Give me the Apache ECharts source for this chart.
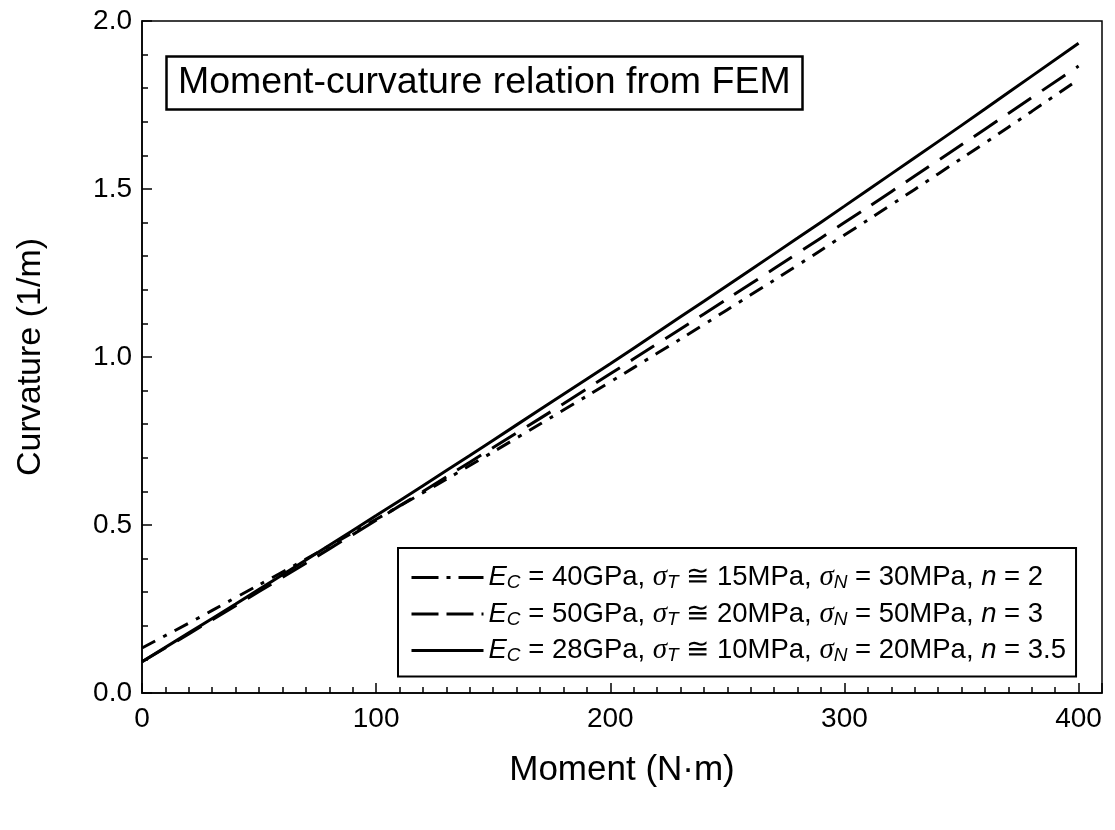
<!DOCTYPE html>
<html>
<head>
<meta charset="utf-8">
<script src="https://cdn.jsdelivr.net/npm/echarts@6/dist/echarts.min.js"></script>
<style>
html,body{margin:0;padding:0;background:#fff;}
#chart{width:1115px;height:830px;}
</style>
</head>
<body>
<div id="chart"></div>
<script>
// ---- data ----
const moments = [0,20,40,60,80,100,120,140,160,180,200,220,240,260,280,300,320,340,360,380,400];
const curvDashDot40 = [0.134,0.208,0.284,0.360,0.438,0.517,0.596,0.677,0.759,0.842,0.926,1.011,1.097,1.185,1.273,1.363,1.453,1.545,1.637,1.731,1.826];
const curvDashed50  = [0.093,0.176,0.260,0.344,0.429,0.514,0.600,0.687,0.774,0.861,0.950,1.039,1.128,1.218,1.309,1.400,1.492,1.585,1.678,1.772,1.866];
const curvSolid28   = [0.093,0.179,0.265,0.352,0.440,0.528,0.617,0.707,0.798,0.889,0.980,1.073,1.166,1.260,1.354,1.449,1.545,1.641,1.738,1.836,1.934];
const seriesNames = ['s40', 's50', 's28'];
const legendLabels = [
  '{i|E}{s|C}{t| = 40GPa, }{g|σ}{s|T}{t| ≅ 15MPa, }{g|σ}{s|N}{t| = 30MPa, }{i|n}{t| = 2}',
  '{i|E}{s|C}{t| = 50GPa, }{g|σ}{s|T}{t| ≅ 20MPa, }{g|σ}{s|N}{t| = 50MPa, }{i|n}{t| = 3}',
  '{i|E}{s|C}{t| = 28GPa, }{g|σ}{s|T}{t| ≅ 10MPa, }{g|σ}{s|N}{t| = 20MPa, }{i|n}{t| = 3.5}'
];
const xTicks = [0,100,200,300,400];
const titleText = 'Moment-curvature relation from FEM';
const xName = 'Moment (N·m)';
const yName = 'Curvature (1/m)';

const FONT = '"Liberation Sans", Arial, sans-serif';
const pairs = arr => moments.map((m, i) => [m, arr[i]]);
const dashes = [[15, 9, 4, 9], [28, 13], 'solid'];
const legendDashes = [[27, 8, 4, 8], [27, 8], 'solid'];
const curves = [curvDashDot40, curvDashed50, curvSolid28];

const chart = echarts.init(document.getElementById('chart'), null, {renderer: 'canvas'});
chart.setOption({
  backgroundColor: '#fff',
  animation: false,
  title: {
    text: titleText,
    left: 166, top: 56,
    padding: [8, 12, 8, 12],
    borderColor: '#000', borderWidth: 2.5,
    textStyle: {fontFamily: FONT, fontSize: 37.5, fontWeight: 'normal', color: '#000'}
  },
  grid: {
    left: 142, top: 21, right: 13, bottom: 137,
    show: true, borderColor: '#000', borderWidth: 1.5, backgroundColor: 'transparent'
  },
  legend: {
    show: true,
    orient: 'vertical',
    left: 398, top: 548,
    padding: [15, 10, 11, 12],
    itemGap: 7,
    itemWidth: 72, itemHeight: 14,
    borderColor: '#000', borderWidth: 2,
    itemStyle: {opacity: 0},
    data: seriesNames.map((n, i) => ({name: n, lineStyle: {type: legendDashes[i], width: 3, color: '#000'}})),
    formatter: function (name) { return legendLabels[seriesNames.indexOf(name)]; },
    textStyle: {
      color: '#000', fontFamily: FONT, fontSize: 27.5,
      rich: {
        t: {fontFamily: FONT, fontSize: 27.5, color: '#000', lineHeight: 30},
        i: {fontFamily: FONT, fontSize: 27.5, fontStyle: 'italic', color: '#000', lineHeight: 30},
        g: {fontFamily: '"Liberation Serif", serif', fontSize: 29, fontStyle: 'italic', color: '#000', lineHeight: 30},
        s: {fontFamily: FONT, fontSize: 19, fontStyle: 'italic', color: '#000', verticalAlign: 'bottom', lineHeight: 20}
      }
    }
  },
  xAxis: [{
    type: 'value', min: 0, max: 410, interval: 100, position: 'bottom',
    name: xName, nameLocation: 'middle', nameGap: 60,
    nameTextStyle: {fontFamily: FONT, fontSize: 35, color: '#000'},
    axisLine: {show: true, lineStyle: {color: '#000', width: 1.5}},
    axisTick: {show: true, inside: true, length: 10, lineStyle: {color: '#000', width: 1.5}},
    axisLabel: {color: '#000', fontFamily: FONT, fontSize: 28, margin: 12,
      formatter: v => (xTicks.indexOf(v) >= 0 ? String(v) : '')},
    splitLine: {show: false}
  }, {
    type: 'value', min: 0, max: 410, interval: 10, position: 'bottom',
    axisLine: {show: false},
    axisTick: {show: true, inside: true, length: 6, lineStyle: {color: '#000', width: 1.5}},
    axisLabel: {show: false},
    splitLine: {show: false}
  }],
  yAxis: {
    type: 'value', min: 0, max: 2, interval: 0.5,
    name: yName, nameLocation: 'middle', nameGap: 94,
    nameTextStyle: {fontFamily: FONT, fontSize: 34, color: '#000'},
    axisLine: {show: true, lineStyle: {color: '#000', width: 1.5}},
    axisTick: {show: true, inside: true, length: 10, lineStyle: {color: '#000', width: 1.5}},
    minorTick: {show: true, splitNumber: 5, length: 6, lineStyle: {color: '#000', width: 1.5}},
    axisLabel: {color: '#000', fontFamily: FONT, fontSize: 28, margin: 10, formatter: v => v.toFixed(1)},
    splitLine: {show: false}
  },
  series: seriesNames.map((n, i) => ({
    name: n, type: 'line', xAxisIndex: 0, data: pairs(curves[i]),
    showSymbol: false, symbol: 'none', smooth: true,
    itemStyle: {color: '#000'},
    lineStyle: {color: '#000', width: 3, type: dashes[i]},
    z: 2 + i
  }))
});
</script>
</body>
</html>
